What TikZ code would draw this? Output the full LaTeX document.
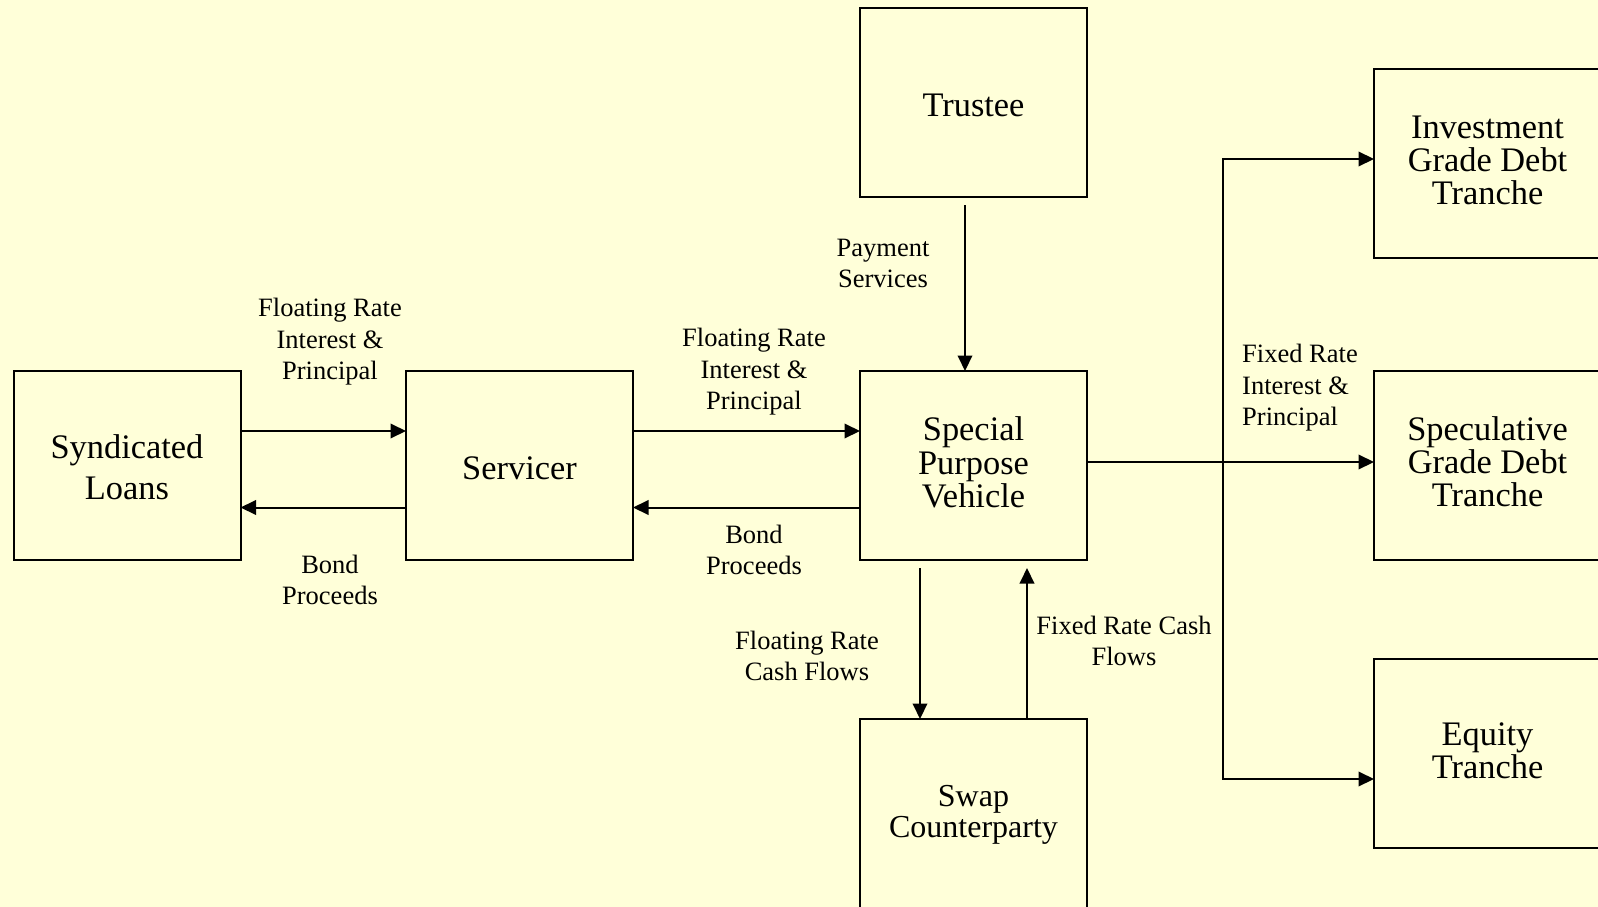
\documentclass[tikz,border=0pt]{standalone}
\usepackage{fontspec}
\setmainfont{Liberation Serif}
\usetikzlibrary{arrows.meta}
\definecolor{bgc}{RGB}{255,255,217}
\tikzset{
  box/.style={draw, line width=2pt, minimum width=227pt, minimum height=189pt,
    inner sep=0pt, outer sep=0pt},
  boxtxt/.style={align=center, inner sep=0pt, font=\fontsize{34.4}{33.6}\selectfont},
  lbl/.style={align=center, inner sep=0pt, font=\fontsize{26.5}{31.6}\selectfont},
  conn/.style={line width=2pt},
  arr/.style={conn, -{Triangle[length=15.5pt,width=14.5pt]}},
}
\begin{document}
\begin{tikzpicture}[x=1pt,y=-1pt]
\useasboundingbox (0,0) rectangle (1598,907);
\clip (0,0) rectangle (1598,907);
\fill[bgc] (0,0) rectangle (1598,907);

% boxes
\node[box] (synd) at (127,465.5) {};
\node[box] (serv) at (519.5,465.5) {};
\node[box] (spv) at (973.5,465.5) {};
\node[box] (trustee) at (973.5,102.5) {};
\node[box] (swap) at (973.5,813.5) {};
\node[box] (ig) at (1487.5,163.5) {};
\node[box] (spec) at (1487.5,465.5) {};
\node[box] (eq) at (1487.5,753) {};

% box texts
\node[boxtxt, font=\fontsize{34.4}{41.5}\selectfont] (syndT) at ([yshift=-1.5pt]synd.center) {Syndicated\\Loans};
\node[boxtxt] (servT) at ([yshift=-3pt]serv.center) {Servicer};
\node[boxtxt] (spvT) at ([yshift=3pt]spv.center) {Special\\Purpose\\Vehicle};
\node[boxtxt] (trusteeT) at ([yshift=-3pt]trustee.center) {Trustee};
\node[boxtxt, font=\fontsize{32}{31}\selectfont] (swapT) at ([yshift=-1pt]swap.center) {Swap\\Counterparty};
\node[boxtxt, font=\fontsize{34.4}{32.6}\selectfont] (igT) at ([yshift=3pt]ig.center) {Investment\\Grade Debt\\Tranche};
\node[boxtxt, font=\fontsize{34.4}{33.1}\selectfont] (specT) at ([yshift=3.5pt]spec.center) {Speculative\\Grade Debt\\Tranche};
\node[boxtxt, font=\fontsize{34.4}{32.6}\selectfont] (eqT) at ([yshift=2.5pt]eq.center) {Equity\\Tranche};

% labels
\node[lbl] (l1) at (330,342) {Floating Rate\\Interest \&\\Principal};
\node[lbl] (l2) at (330,580) {Bond\\Proceeds};
\node[lbl] (l3) at (754,372) {Floating Rate\\Interest \&\\Principal};
\node[lbl] (l4) at (754,550) {Bond\\Proceeds};
\node[lbl] (l5) at (883,263.5) {Payment\\Services};
\node[lbl] (l6) at (807,656) {Floating Rate\\Cash Flows};
\node[lbl] (l7) at (1124,641) {Fixed Rate Cash\\Flows};
\node[lbl, align=left, anchor=west] (l8) at (1242,388) {Fixed Rate\\Interest \&\\Principal};

% helper coordinates
\coordinate (yA) at (0,431);
\coordinate (yB) at (0,507.5);
\coordinate (yS) at (0,462);
\coordinate (xT) at (965,0);
\coordinate (xD) at (920,0);
\coordinate (xU) at (1027,0);
\coordinate (b1) at (1223,159);
\coordinate (b2) at (1223,779);

% connectors
\draw[arr] (synd.east |- yA) -- (serv.west |- yA);
\draw[arr] (serv.west |- yB) -- (synd.east |- yB);
\draw[arr] (serv.east |- yA) -- (spv.west |- yA);
\draw[arr] (spv.west |- yB) -- (serv.east |- yB);
\draw[arr, shorten <=8pt] (trustee.south -| xT) -- (spv.north -| xT);
\draw[arr, shorten <=8pt] (spv.south -| xD) -- (swap.north -| xD);
\draw[arr, shorten >=8pt] (swap.north -| xU) -- (spv.south -| xU);
\draw[arr] (spv.east |- yS) -- (spec.west |- yS);
\draw[arr] (b2) -- (b1) -- (ig.west |- b1);
\draw[arr] (b1) -- (b2) -- (eq.west |- b2);
\end{tikzpicture}
\end{document}
